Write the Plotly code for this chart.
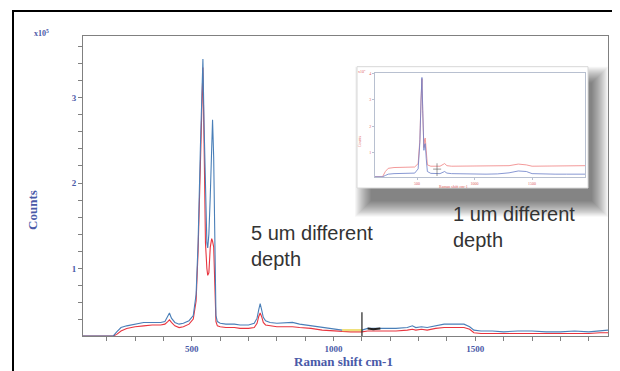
import plotly.graph_objects as go

# ---------------- data (counts in units of 1e5) ----------------
wavenumber = [116, 200, 222, 235, 250, 270, 300, 330, 360, 390, 405, 415, 421, 428, 440,
              455, 470, 490, 505, 515, 522, 530, 535, 539, 543, 548, 553, 556, 560, 565,
              570, 573, 577, 581, 585, 590, 600, 620, 650, 670, 700, 720, 730, 736, 741,
              746, 752, 760, 776, 800, 830, 855, 880, 920, 960, 1000, 1030, 1060, 1100,
              1120, 1150, 1180, 1220, 1260, 1278, 1290, 1310, 1330, 1360, 1390, 1420,
              1460, 1480, 1495, 1520, 1560, 1600, 1650, 1700, 1750, 1800, 1850, 1900,
              1940, 1968]
blue_counts = [0.21, 0.21, 0.21, 0.26, 0.31, 0.33, 0.35, 0.37, 0.37, 0.37, 0.38, 0.44, 0.48,
               0.42, 0.37, 0.35, 0.36, 0.39, 0.45, 0.70, 1.30, 2.40, 3.20, 3.45, 2.70, 1.80,
               1.30, 1.24, 1.40, 1.85, 2.50, 2.74, 2.30, 1.20, 0.45, 0.38, 0.36, 0.35, 0.35,
               0.34, 0.34, 0.36, 0.42, 0.52, 0.59, 0.52, 0.43, 0.39, 0.37, 0.36, 0.37, 0.37,
               0.35, 0.33, 0.31, 0.29, 0.28, 0.28, 0.28, 0.30, 0.30, 0.30, 0.30, 0.31, 0.33,
               0.31, 0.32, 0.31, 0.33, 0.35, 0.35, 0.35, 0.32, 0.28, 0.27, 0.27, 0.26, 0.27,
               0.27, 0.26, 0.26, 0.27, 0.26, 0.27, 0.28]
red_counts = [0.21, 0.21, 0.21, 0.23, 0.27, 0.30, 0.32, 0.33, 0.34, 0.34, 0.35, 0.38, 0.40,
              0.37, 0.33, 0.31, 0.32, 0.35, 0.41, 0.62, 1.20, 2.20, 3.00, 3.35, 2.50, 1.30,
              1.00, 0.92, 0.95, 1.25, 1.35, 1.32, 1.25, 0.80, 0.38, 0.33, 0.32, 0.31, 0.31,
              0.30, 0.30, 0.31, 0.36, 0.44, 0.48, 0.44, 0.37, 0.34, 0.33, 0.32, 0.32, 0.32,
              0.31, 0.30, 0.28, 0.27, 0.26, 0.26, 0.26, 0.27, 0.27, 0.27, 0.27, 0.28, 0.29,
              0.28, 0.29, 0.28, 0.30, 0.31, 0.31, 0.31, 0.29, 0.25, 0.24, 0.24, 0.24, 0.24,
              0.24, 0.24, 0.24, 0.24, 0.24, 0.25, 0.25]

# selected (yellow) part of the blue spectrum, cursor line and dark segment
highlight_wn = [1030, 1060, 1100]
highlight_counts = [0.28, 0.28, 0.28]
marker_wn = [1100, 1100]
marker_counts = [0.21, 0.49]
dark_wn = [1120, 1140, 1165]
dark_counts = [0.30, 0.29, 0.30]

x_ticks = [500, 1000, 1500]
x_labels = ["500", "1000", "1500"]
y_ticks = [1, 2, 3]
y_labels = ["1", "2", "3"]

# inset spectrum (units of 1e5)
inset_wn = [135, 200, 225, 250, 300, 400, 480, 510, 525, 535, 543, 550, 556, 560, 565, 572,
            580, 590, 620, 700, 740, 760, 800, 900, 1000, 1100, 1200, 1300, 1380, 1450,
            1500, 1600, 1700, 1800, 1900, 1960]
inset_red = [0.10, 0.10, 0.30, 0.42, 0.45, 0.45, 0.47, 0.60, 1.50, 3.00, 3.80, 2.50, 1.40,
             1.20, 1.50, 1.56, 1.10, 0.55, 0.50, 0.50, 0.60, 0.52, 0.50, 0.50, 0.50, 0.50,
             0.50, 0.52, 0.58, 0.55, 0.50, 0.50, 0.50, 0.50, 0.52, 0.52]
inset_blue = [0.10, 0.10, 0.15, 0.20, 0.22, 0.22, 0.24, 0.40, 1.40, 3.00, 3.85, 2.60, 1.30,
              1.10, 1.30, 1.35, 0.80, 0.30, 0.23, 0.22, 0.30, 0.24, 0.22, 0.21, 0.20, 0.20,
              0.21, 0.25, 0.32, 0.30, 0.22, 0.20, 0.20, 0.20, 0.20, 0.20]
inset_cross_v_wn = [674, 674]
inset_cross_v = [0.13, 0.61]
inset_cross_h_wn = [640, 710]
inset_cross_h = [0.39, 0.39]
inset_x_ticks = [500, 1000, 1500]
inset_y_ticks = [1, 2, 3, 4]

# ---------------- figure ----------------
# the page body has an 8px margin; compensate so page pixels match the reference
OFF = 8
W, H = 620 - OFF, 371 - OFF


def px(x):
    return (x - OFF) / W


def py(y):
    return 1 - (y - OFF) / H


BLUE = "#4a7fb8"
RED = "#e8353f"
LABEL = "#4a5aa8"
INSET_RED = "#e06060"

fig = go.Figure()

fig.add_trace(go.Scatter(x=wavenumber, y=red_counts, mode="lines",
                         line=dict(color=RED, width=1.1)))
fig.add_trace(go.Scatter(x=wavenumber, y=blue_counts, mode="lines",
                         line=dict(color=BLUE, width=1.1)))
fig.add_trace(go.Scatter(x=highlight_wn, y=highlight_counts, mode="lines",
                         line=dict(color="#efe07a", width=2.2), hoverinfo="skip"))
fig.add_trace(go.Scatter(x=marker_wn, y=marker_counts, mode="lines",
                         line=dict(color="#222222", width=1.2)))
fig.add_trace(go.Scatter(x=dark_wn, y=dark_counts, mode="lines",
                         line=dict(color="#222222", width=2)))

# inset traces
fig.add_trace(go.Scatter(x=inset_wn, y=inset_red, mode="lines", xaxis="x2", yaxis="y2",
                         line=dict(color="#f08080", width=0.8)))
fig.add_trace(go.Scatter(x=inset_wn, y=inset_blue, mode="lines", xaxis="x2", yaxis="y2",
                         line=dict(color="#6a7ec8", width=0.8)))
fig.add_trace(go.Scatter(x=inset_cross_v_wn, y=inset_cross_v, mode="lines", xaxis="x2",
                         yaxis="y2", line=dict(color="#555", width=0.6)))
fig.add_trace(go.Scatter(x=inset_cross_h_wn, y=inset_cross_h, mode="lines", xaxis="x2",
                         yaxis="y2", line=dict(color="#555", width=0.6)))

shapes = []
# inset drop shadow (stacked translucent rectangles -> soft edge)
box = (357, 65, 588, 187)
for r in range(0, 17):
    shapes.append(dict(type="rect", xref="paper", yref="paper", layer="below",
                       x0=px(box[0] + 14 - r), x1=px(box[2] + 4 + r),
                       y0=py(box[3] + 13 + r), y1=py(box[1] + 16 - r),
                       line=dict(width=0), fillcolor="rgba(0,0,0,0.034)"))
# inset white card
shapes.append(dict(type="rect", xref="paper", yref="paper", layer="below",
                   x0=px(box[0]), x1=px(box[2]), y0=py(box[3]), y1=py(box[1]),
                   line=dict(color="#d8d8d8", width=1), fillcolor="white"))
# outer black frame
shapes.append(dict(type="rect", xref="paper", yref="paper", layer="above",
                   x0=px(13), x1=px(618), y0=py(400), y1=py(9),
                   line=dict(color="black", width=2), fillcolor="rgba(0,0,0,0)"))

annotations = [
    dict(text="x10<sup>5</sup>", x=px(32), y=py(31), xref="paper", yref="paper",
         xanchor="left", yanchor="middle", showarrow=False,
         font=dict(family="Liberation Serif", size=8, color=LABEL, weight="bold")),
    dict(text="Counts", x=px(33), y=py(209), xref="paper", yref="paper", textangle=-90,
         showarrow=False, xanchor="center", yanchor="middle",
         font=dict(family="Liberation Serif", size=13, color=LABEL, weight="bold")),
    dict(text="Raman shift cm-1", x=px(343), y=py(361), xref="paper", yref="paper",
         showarrow=False, xanchor="center", yanchor="middle",
         font=dict(family="Liberation Serif", size=13, color=LABEL, weight="bold")),
    dict(text="5 um different<br>depth", x=px(249), y=py(219), xref="paper", yref="paper",
         showarrow=False, xanchor="left", yanchor="top", align="left",
         font=dict(family="Liberation Sans", size=20, color="#333333")),
    dict(text="1 um different<br>depth", x=px(451), y=py(200), xref="paper", yref="paper",
         showarrow=False, xanchor="left", yanchor="top", align="left",
         font=dict(family="Liberation Sans", size=20, color="#333333")),
    # inset labels
    dict(text="x10<sup>5</sup>", x=px(362), y=py(70), xref="paper", yref="paper",
         showarrow=False, xanchor="center", yanchor="middle",
         font=dict(family="Liberation Serif", size=4, color=INSET_RED)),
    dict(text="Counts", x=px(359), y=py(140), xref="paper", yref="paper", textangle=-90,
         showarrow=False, font=dict(family="Liberation Serif", size=4, color=INSET_RED)),
    dict(text="Raman shift cm-1", x=px(470), y=py(185), xref="paper", yref="paper",
         showarrow=False, font=dict(family="Liberation Serif", size=4, color=INSET_RED)),
]

axis_common = dict(showgrid=False, zeroline=False, showline=True, mirror=True)

fig.update_layout(
    width=W, height=H,
    margin=dict(l=0, r=0, t=0, b=0),
    paper_bgcolor="white", plot_bgcolor="white",
    showlegend=False,
    shapes=shapes,
    annotations=annotations,
    xaxis=dict(domain=[px(83), px(608)], range=[116, 1968], **axis_common,
               linecolor="#808080", linewidth=1,
               ticks="outside", ticklen=4, tickcolor="#808080",
               tickvals=x_ticks, ticktext=x_labels,
               minor=dict(tick0=0, dtick=100, ticks="outside", ticklen=4,
                          tickcolor="#808080"),
               tickfont=dict(family="Liberation Serif", size=9, color=LABEL, weight="bold"),
               anchor="y"),
    yaxis=dict(domain=[py(336), py(34)], range=[0.209, 3.721], **axis_common,
               linecolor="#808080", linewidth=1,
               ticks="outside", ticklen=4, tickcolor="#808080",
               tickvals=y_ticks, ticktext=y_labels,
               minor=dict(tick0=0, dtick=0.2, ticks="outside", ticklen=4,
                          tickcolor="#808080"),
               tickfont=dict(family="Liberation Serif", size=9, color=LABEL, weight="bold"),
               anchor="x"),
    xaxis2=dict(domain=[px(375), px(585)], range=[135, 1960], **axis_common,
                linecolor="#b8c0d0", linewidth=1, ticks="outside", ticklen=2,
                tickcolor="#b8c0d0", tickvals=inset_x_ticks,
                ticktext=[str(v) for v in inset_x_ticks],
                tickfont=dict(family="Liberation Serif", size=4, color=INSET_RED),
                anchor="y2"),
    yaxis2=dict(domain=[py(176), py(71)], range=[0.09, 4.03], **axis_common,
                linecolor="#b8c0d0", linewidth=1, ticks="outside", ticklen=2,
                tickcolor="#b8c0d0", tickvals=inset_y_ticks,
                ticktext=[str(v) for v in inset_y_ticks],
                tickfont=dict(family="Liberation Serif", size=4, color=INSET_RED),
                anchor="x2"),
)

fig.write_html("out.html")
